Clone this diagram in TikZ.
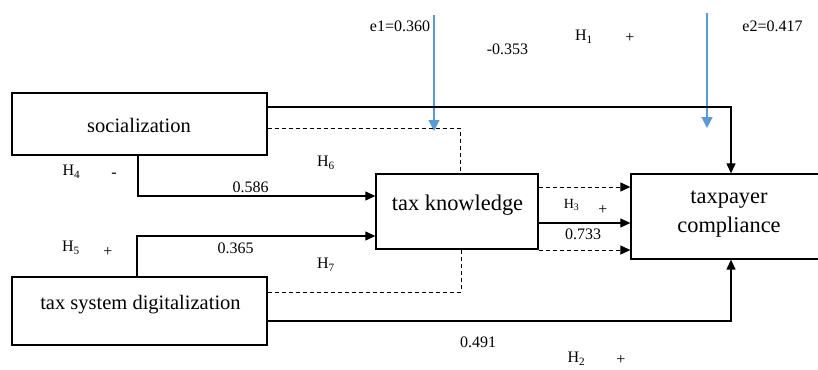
\documentclass[tikz,border=0pt]{standalone}
\usepackage{fontspec}
\setmainfont{Liberation Serif}
\usetikzlibrary{arrows.meta}
\definecolor{eblue}{HTML}{5B9BD5}
\begin{document}
\begin{tikzpicture}[x=1pt,y=-1pt,
  box/.style={draw, line width=1.3pt, inner sep=0pt},
  conn/.style={line width=1.2pt},
  arr/.style={conn, -{Triangle[length=10pt,width=9pt]}},
  dsh/.style={line width=1pt, dash pattern=on 4pt off 3pt},
  darr/.style={dsh, -{Triangle[length=10pt,width=9pt]}},
  earr/.style={eblue, line width=1.2pt, -{Triangle[length=11pt,width=11pt]}},
  lbl/.style={font=\fontsize{16}{19}\selectfont, inner sep=0pt},
  slbl/.style={font=\fontsize{14}{17}\selectfont, inner sep=0pt},
  boxtxt/.style={font=\fontsize{20.5}{24}\selectfont, inner sep=0pt},
  bigtxt/.style={font=\fontsize{22.4}{27}\selectfont, inner sep=0pt}]
\useasboundingbox (0,0) rectangle (818,369);
\clip (0,0) rectangle (818,369);

% boxes
\node[box, minimum width=255pt, minimum height=62pt] (soc) at (139.5,124) {};
\node[boxtxt] (soct) at (139,125) {socialization};
\node[box, minimum width=255pt, minimum height=68pt] (dig) at (139.5,311) {};
\node[boxtxt, anchor=base] (digt) at (140.5,309) {tax system digitalization};
\node[box, minimum width=162pt, minimum height=75pt] (tk) at (457,211.5) {};
\node[bigtxt, anchor=base] (tkt) at (457.5,210) {tax knowledge};
\node[box, minimum width=191pt, minimum height=85pt] (tc) at (726.5,216.5) {};
\node[bigtxt, anchor=base] (tct1) at (729,203) {taxpayer};
\node[bigtxt, anchor=base] (tct2) at (729,232) {compliance};

% error arrows
\coordinate (e1s) at (434,15);
\coordinate (e1e) at (434,131);
\coordinate (e2s) at (707,13);
\coordinate (e2e) at (707,128);
\draw[earr] (e1s) -- (e1e);
\draw[earr] (e2s) -- (e2e);

% connectors
\draw[arr] (soc.east |- 0,107) -| (tc.north -| 731,0);
\draw[dsh] (soc.east |- 0,128) -| (tk.north -| 460,0);
\draw[arr] (soc.south -| 138,0) |- (tk.west |- 0,196);
\draw[arr] (dig.north -| 137,0) |- (tk.west |- 0,236);
\draw[dsh] (dig.east |- 0,292) -| (tk.south -| 461,0);
\draw[arr] (dig.east |- 0,321) -| (tc.south -| 731,0);
\draw[darr] (tk.east |- 0,187) -- (tc.west |- 0,187);
\draw[arr] (tk.east |- 0,223) -- (tc.west |- 0,223);
\draw[darr] (tk.east |- 0,250) -- (tc.west |- 0,250);

% labels
\node[lbl] (le1) at (400,26) {e1=0.360};
\node[lbl] (lb353) at (507.5,49) {-0.353};
\node[lbl] (lh1) at (584,37) {H\textsubscript{1}};
\node[lbl] (lp1) at (630,38) {+};
\node[lbl] (le2) at (772.5,26) {e2=0.417};
\node[lbl] (lh4) at (71.5,172) {H\textsubscript{4}};
\node[lbl] (lm4) at (114,175) {-};
\node[lbl] (lh6) at (326,163) {H\textsubscript{6}};
\node[lbl] (l586) at (250.5,187) {0.586};
\node[lbl] (lh5) at (71,248) {H\textsubscript{5}};
\node[lbl] (lp5) at (108,252) {+};
\node[lbl] (l365) at (235.5,248) {0.365};
\node[lbl] (lh7) at (326,265) {H\textsubscript{7}};
\node[slbl] (lh3) at (571.5,205) {H\textsubscript{3}};
\node[lbl] (lp3) at (603,210) {+};
\node[lbl] (l733) at (583,234) {0.733};
\node[lbl] (l491) at (478,342) {0.491};
\node[lbl] (lh2) at (576.5,359) {H\textsubscript{2}};
\node[lbl] (lp2) at (621,360) {+};
\end{tikzpicture}
\end{document}
